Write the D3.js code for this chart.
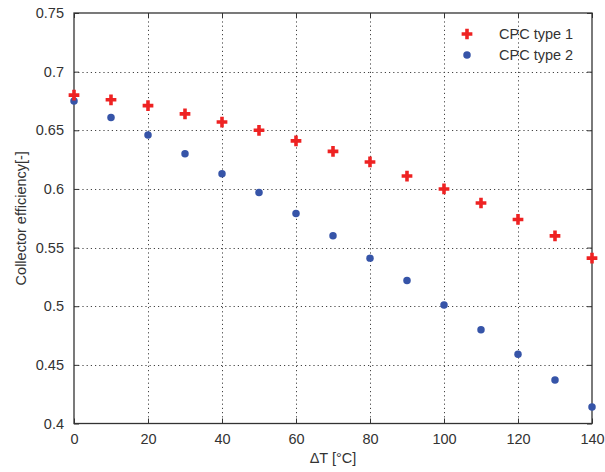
<!DOCTYPE html>
<meta charset="utf-8">
<style>
body { margin: 0; background: #fff; }
text { font-family: 'Liberation Sans', Arial, sans-serif; fill: #333; }
.grid line { stroke: #444; stroke-dasharray: 1.2,3; stroke-width: 1; }
</style>
<body>
<svg width="605" height="472"></svg>
<script src="https://cdn.jsdelivr.net/npm/d3@7"></script>
<script>

var deltaT = [0, 10, 20, 30, 40, 50, 60, 70, 80, 90, 100, 110, 120, 130, 140];
var type1 = [0.680, 0.676, 0.671, 0.664, 0.657, 0.650, 0.641, 0.632, 0.623, 0.611, 0.600, 0.588, 0.574, 0.560, 0.541];
var type2 = [0.675, 0.661, 0.646, 0.630, 0.613, 0.597, 0.579, 0.560, 0.541, 0.522, 0.501, 0.480, 0.459, 0.437, 0.414];
var xTicks = [0, 20, 40, 60, 80, 100, 120, 140];
var yTicks = [0.4, 0.45, 0.5, 0.55, 0.6, 0.65, 0.7, 0.75];
var seriesNames = ["CPC type 1", "CPC type 2"];

var svg = d3.select("svg");
var pLeft = 74, pRight = 592, pTop = 13, pBottom = 423.5;

var x = d3.scaleLinear().domain([0, 140]).range([pLeft, pRight]);
var y = d3.scaleLinear().domain([0.4, 0.75]).range([pBottom, pTop]);

// dotted grid
var grid = svg.append("g").attr("class", "grid");
grid.selectAll(".gx").data(xTicks.slice(1, -1)).enter().append("line")
    .attr("x1", d => Math.round(x(d)) + 0.5).attr("x2", d => Math.round(x(d)) + 0.5)
    .attr("y1", pTop).attr("y2", pBottom);
grid.selectAll(".gy").data(yTicks.slice(1, -1)).enter().append("line")
    .attr("y1", d => Math.round(y(d)) + 0.5).attr("y2", d => Math.round(y(d)) + 0.5)
    .attr("x1", pLeft).attr("x2", pRight);

// axes with inward ticks
function styleAxis(g) {
  g.select(".domain").remove();
  g.selectAll(".tick line").attr("stroke", "#333");
  g.selectAll("text").style("font-size", "14.5px").attr("fill", "#333");
}
svg.append("g").attr("transform", "translate(0," + pBottom + ")")
   .call(d3.axisBottom(x).tickValues(xTicks).tickSize(-5).tickPadding(10).tickFormat(d3.format("d")))
   .call(styleAxis);
svg.append("g").attr("transform", "translate(0," + pTop + ")")
   .call(d3.axisTop(x).tickValues(xTicks).tickSize(-5).tickFormat(""))
   .call(styleAxis);
svg.append("g").attr("transform", "translate(" + pLeft + ",0)")
   .call(d3.axisLeft(y).tickValues(yTicks).tickSize(-5).tickPadding(10).tickFormat(d3.format("")))
   .call(styleAxis);
svg.append("g").attr("transform", "translate(" + pRight + ",0)")
   .call(d3.axisRight(y).tickValues(yTicks).tickSize(-5).tickFormat(""))
   .call(styleAxis);

svg.append("rect").attr("x", pLeft).attr("y", pTop)
   .attr("width", pRight - pLeft).attr("height", pBottom - pTop)
   .attr("fill", "none").attr("stroke", "#333").attr("stroke-width", 1.3);

// markers
var plus = d3.symbol().type(d3.symbolCross).size(64);
var star = d3.symbol().type(d3.symbolCircle).size(44);

svg.append("g").selectAll("path").data(type2).enter().append("path")
   .attr("d", star).attr("fill", "#3654a8")
   .attr("transform", (d, i) => "translate(" + x(deltaT[i]) + "," + y(d) + ")");
svg.append("g").selectAll("path").data(type1).enter().append("path")
   .attr("d", plus).attr("fill", "#ee2222")
   .attr("transform", (d, i) => "translate(" + x(deltaT[i]) + "," + y(d) + ")");

// legend
var legend = svg.append("g");
legend.append("path").attr("d", plus).attr("fill", "#ee2222").attr("transform", "translate(467,34)");
legend.append("path").attr("d", star).attr("fill", "#3654a8").attr("transform", "translate(467,55)");
legend.selectAll("text").data(seriesNames).enter().append("text")
   .attr("x", 499).attr("y", (d, i) => 39 + i * 21)
   .style("font-size", "14.5px").text(d => d);

// axis labels
svg.append("text").attr("x", (pLeft + pRight) / 2).attr("y", 463)
   .attr("text-anchor", "middle").style("font-size", "14.5px").text("ΔT [°C]");
svg.append("text").attr("transform", "translate(26," + (pTop + pBottom) / 2 + ") rotate(-90)")
   .attr("text-anchor", "middle").style("font-size", "14.5px").text("Collector efficiency[-]");

</script>
</body>
